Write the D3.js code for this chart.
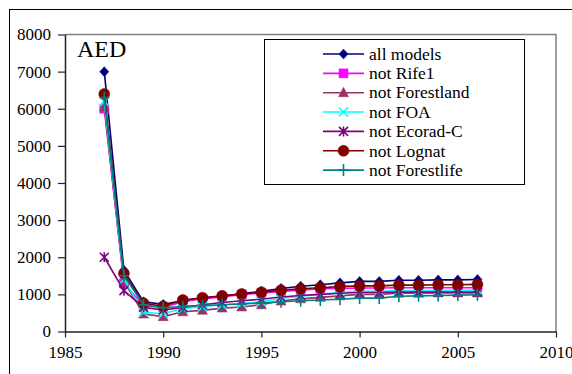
<!DOCTYPE html>
<html>
<head>
<meta charset="utf-8">
<script src="https://cdn.jsdelivr.net/npm/d3@7"></script>
<style>
  html, body { margin: 0; padding: 0; background: #fff; }
  svg { display: block; }
</style>
</head>
<body>
<svg id="chart" width="572" height="374"></svg>
<script>
// Annual AED series, 1987–2006, for each model combination
const years = d3.range(1987, 2007);
const allModels     = [7000,1650,800,730,830,900,950,1020,1080,1160,1220,1260,1310,1350,1350,1380,1380,1390,1390,1400];
const notRife1      = [6000,1300,700,650,800,880,930,1000,1030,1080,1110,1150,1160,1170,1170,1180,1180,1180,1180,1180];
const notForestland = [6050,1350,470,400,530,570,630,660,720,820,880,920,960,1000,1000,1030,1030,1040,1040,1040];
const notFOA        = [6200,1400,520,480,620,670,720,760,800,890,950,1000,1050,1080,1080,1100,1100,1100,1110,1110];
const notEcoradC    = [2000,1100,650,580,650,720,780,830,870,930,970,1000,1030,1050,1050,1060,1060,1060,1060,1060];
const notLognat     = [6400,1560,760,680,850,910,960,1010,1060,1110,1150,1180,1210,1230,1230,1250,1250,1260,1260,1270];
const notForestlife = [6300,1500,720,640,670,700,720,740,770,800,830,850,870,900,900,950,960,970,980,990];

const seriesNames = ["all models","not Rife1","not Forestland","not FOA","not Ecorad-C","not Lognat","not Forestlife"];
const seriesValues = [allModels,notRife1,notForestland,notFOA,notEcoradC,notLognat,notForestlife];
const seriesColors = ["#000080","#ff00ff","#993366","#00ffff","#800080","#800000","#008080"];
const seriesMarkers = ["diamond","square","triangle","x","star","circle","plus"];

const xTicks = [1985,1990,1995,2000,2005,2010];
const yTicks = [0,1000,2000,3000,4000,5000,6000,7000,8000];

const FONT = "Liberation Serif, Times New Roman, serif";

const svg = d3.select("#chart").attr("font-family", FONT);

// outer chart frame
svg.append("rect").attr("x", 9.5).attr("y", 9.5).attr("width", 600).attr("height", 400)
  .attr("fill", "none").attr("stroke", "#000").attr("stroke-width", 1);

const plot = { left: 65, right: 556, top: 34.5, bottom: 331.5 };
const x = d3.scaleLinear().domain([1985, 2010]).range([plot.left, plot.right]);
const y = d3.scaleLinear().domain([0, 8000]).range([plot.bottom, plot.top]);

// plot area border (top / right)
svg.append("path")
  .attr("d", `M${plot.left},${plot.top}H${plot.right}V${plot.bottom}`)
  .attr("fill", "none").attr("stroke", "#808080").attr("stroke-width", 1.5);

// axes
const xAxis = svg.append("g").attr("transform", `translate(0,${plot.bottom})`)
  .call(d3.axisBottom(x).tickValues(xTicks).tickFormat(d3.format("d")).tickSizeInner(6).tickSizeOuter(0).tickPadding(8));
const yAxis = svg.append("g").attr("transform", `translate(${plot.left},0)`)
  .call(d3.axisLeft(y).tickValues(yTicks).tickFormat(d3.format("d")).tickSizeInner(7).tickSizeOuter(0).tickPadding(7));
[xAxis, yAxis].forEach(a => {
  a.attr("font-family", FONT).attr("font-size", 17);
  a.selectAll(".domain").attr("stroke", "#222").attr("stroke-width", 1.5);
  a.selectAll(".tick line").attr("stroke", "#222").attr("stroke-width", 1.2);
  a.selectAll("text").attr("fill", "#000");
});

// marker shapes
function markerPath(type) {
  switch (type) {
    case "diamond": return "M0,-5L4.5,0L0,5L-4.5,0Z";
    case "square": return "M-4.5,-4.5H4.5V4.5H-4.5Z";
    case "triangle": return "M0,-5.5L5,4L-5,4Z";
    case "circle": return d3.symbol(d3.symbolCircle, 95)();
    case "x": return "M-4.5,-4.5L4.5,4.5M4.5,-4.5L-4.5,4.5";
    case "star": return "M-4.5,-4.5L4.5,4.5M4.5,-4.5L-4.5,4.5M0,-5V5";
    case "plus": return "M0,-6V6M-5,0H5";
  }
}
function drawMarker(g, type, color) {
  const stroked = ["x","star","plus"].includes(type);
  g.append("path").attr("d", markerPath(type))
    .attr("fill", stroked ? "none" : color)
    .attr("stroke", color)
    .attr("stroke-width", stroked ? 1.6 : 0.5);
}

const line = d3.line().x(d => x(d[0])).y(d => y(d[1]));

seriesValues.forEach((vals, i) => {
  const pts = years.map((yr, j) => [yr, vals[j]]);
  const g = svg.append("g");
  g.append("path").datum(pts).attr("d", line)
    .attr("fill", "none").attr("stroke", seriesColors[i]).attr("stroke-width", 1.6);
  pts.forEach(p => {
    const m = g.append("g").attr("transform", `translate(${x(p[0])},${y(p[1])})`);
    drawMarker(m, seriesMarkers[i], seriesColors[i]);
  });
});

// title inside plot
svg.append("text").attr("x", 77).attr("y", 57).attr("font-size", 24).text("AED");

// legend
const legend = svg.append("g");
legend.append("rect").attr("x", 264.5).attr("y", 39.5).attr("width", 260).attr("height", 145)
  .attr("fill", "#fff").attr("stroke", "#000").attr("stroke-width", 1);
seriesNames.forEach((name, i) => {
  const ly = 54 + i * 19.35;
  const row = legend.append("g");
  row.append("line").attr("x1", 323).attr("x2", 364).attr("y1", ly).attr("y2", ly)
    .attr("stroke", seriesColors[i]).attr("stroke-width", 1.6);
  const m = row.append("g").attr("transform", `translate(343.5,${ly})`);
  drawMarker(m, seriesMarkers[i], seriesColors[i]);
  row.append("text").attr("x", 369).attr("y", ly).attr("dy", "0.33em")
    .attr("font-size", 17.5).text(name);
});
</script>
</body>
</html>
